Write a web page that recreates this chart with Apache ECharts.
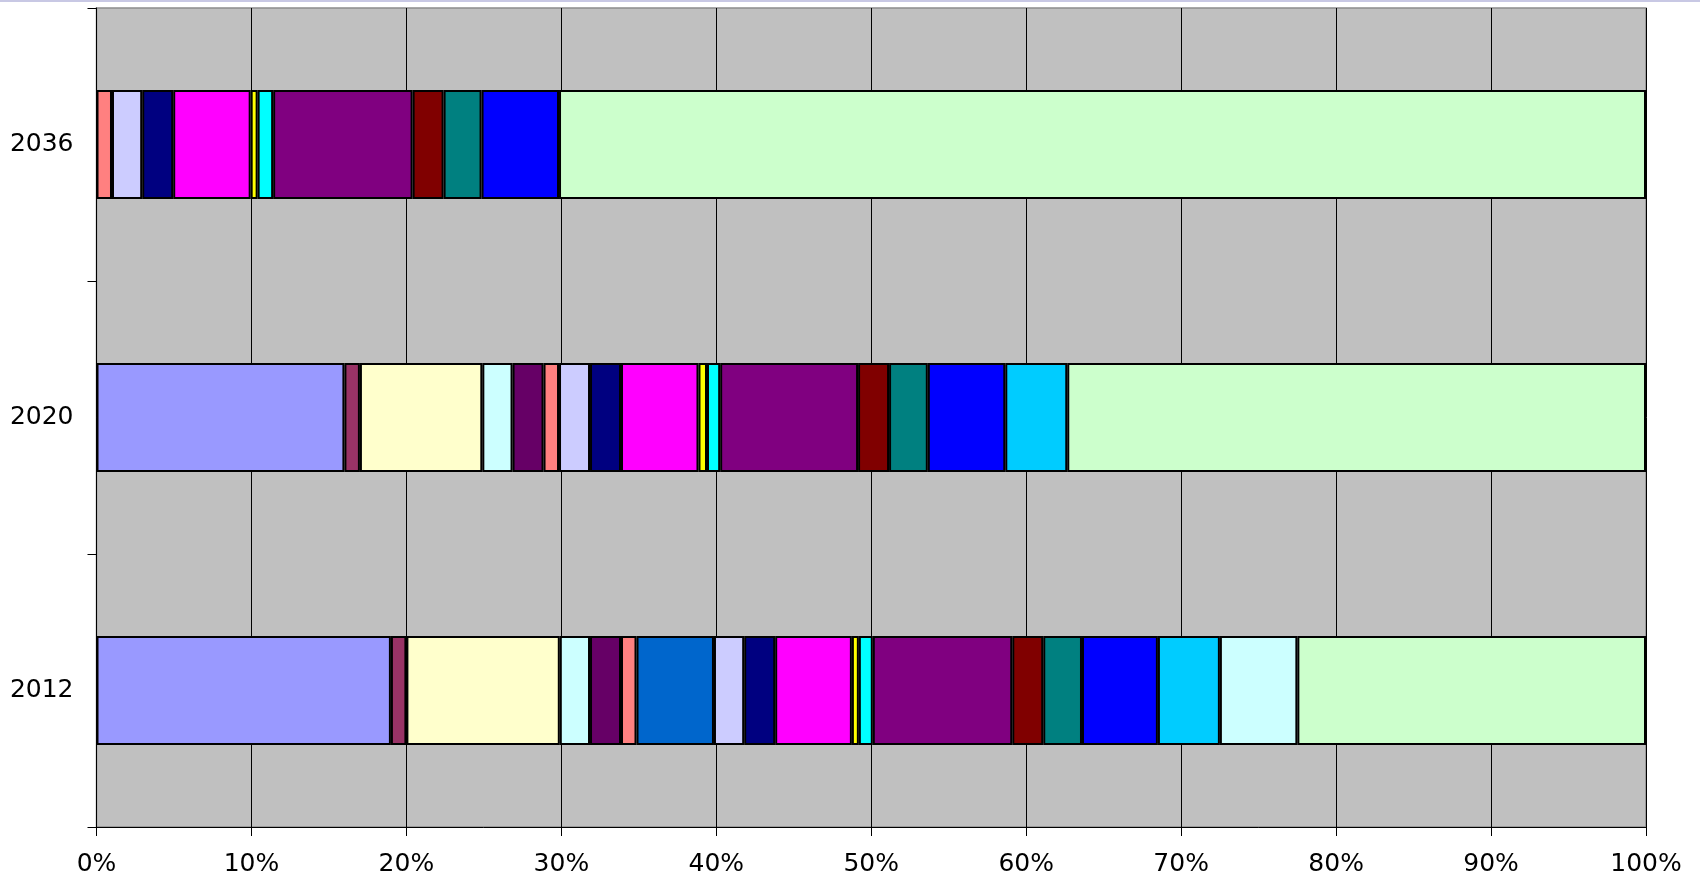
<!DOCTYPE html>
<html>
<head>
<meta charset="utf-8">
<script src="https://cdn.jsdelivr.net/npm/echarts@6/dist/echarts.min.js"></script>
<style>
html,body{margin:0;padding:0;background:#fff;}
#chart{width:1700px;height:878px;}
</style>
</head>
<body>
<div id="chart"></div>
<script>
// Categories (bottom to top)
const years = ['2012', '2020', '2036'];

// Share of each component (percent) per year, in stacking order
const share2012 = [19, 1, 9.9, 1.95, 2, 1, 5, 1.95, 2, 4.95, 0.45, 0.9, 9, 2, 2.5, 4.9, 4, 5, 22.5];
const share2020 = [16, 1, 7.9, 1.95, 2, 1, 0, 2, 2, 5, 0.55, 0.85, 8.9, 2, 2.5, 5, 4, 0, 37.35];
const share2036 = [0, 0, 0, 0, 0, 1, 0, 1.95, 2, 5, 0.45, 1, 9, 2, 2.45, 5, 0, 0, 70.15];

// X-axis tick values
const xTicks = [0, 10, 20, 30, 40, 50, 60, 70, 80, 90, 100];

// Segment fill colours (style only)
const palette = ['#9999FF', '#993366', '#FFFFCC', '#CCFFFF', '#660066', '#FF8080', '#0066CC', '#CCCCFF',
  '#000080', '#FF00FF', '#FFFF00', '#00FFFF', '#800080', '#800000', '#008080', '#0000FF',
  '#00CCFF', '#CCFFFF', '#CCFFCC'];

const chart = echarts.init(document.getElementById('chart'), null, { renderer: 'canvas' });

const series = share2012.map((v, i) => ({
  type: 'bar',
  stack: 'total',
  barWidth: '40%',
  data: [share2012[i], share2020[i], share2036[i]].map(x => (x === 0 ? '-' : x)),
  itemStyle: { color: palette[i], borderColor: '#000', borderWidth: 2 },
  emphasis: { disabled: true },
  silent: true
}));

chart.setOption({
  animation: false,
  backgroundColor: '#ffffff',
  graphic: [{
    type: 'rect', left: 0, top: 0, shape: { width: 1700, height: 2 },
    style: { fill: '#c8c8e4' }, silent: true
  }],
  grid: {
    left: 96.5, right: 54, top: 8, bottom: 51,
    show: true, backgroundColor: '#C0C0C0', borderColor: '#8c8c8c', borderWidth: 1.5
  },
  xAxis: {
    type: 'value',
    min: xTicks[0], max: xTicks[xTicks.length - 1], interval: xTicks[1] - xTicks[0],
    axisLine: { show: true, lineStyle: { color: '#000', width: 1 } },
    axisTick: { show: true, length: 9, lineStyle: { color: '#000', width: 1 } },
    splitLine: { show: true, lineStyle: { color: '#000', width: 1 } },
    axisLabel: {
      formatter: '{value}%', color: '#000', fontSize: 25, fontFamily: 'DejaVu Sans', margin: 25
    }
  },
  yAxis: {
    type: 'category',
    data: years,
    axisLine: { show: true, lineStyle: { color: '#000', width: 1 } },
    axisTick: { show: true, length: 9, lineStyle: { color: '#000', width: 1 } },
    splitLine: { show: false },
    axisLabel: { color: '#000', fontSize: 25, fontFamily: 'DejaVu Sans', margin: 23 }
  },
  series: series
});
</script>
</body>
</html>
